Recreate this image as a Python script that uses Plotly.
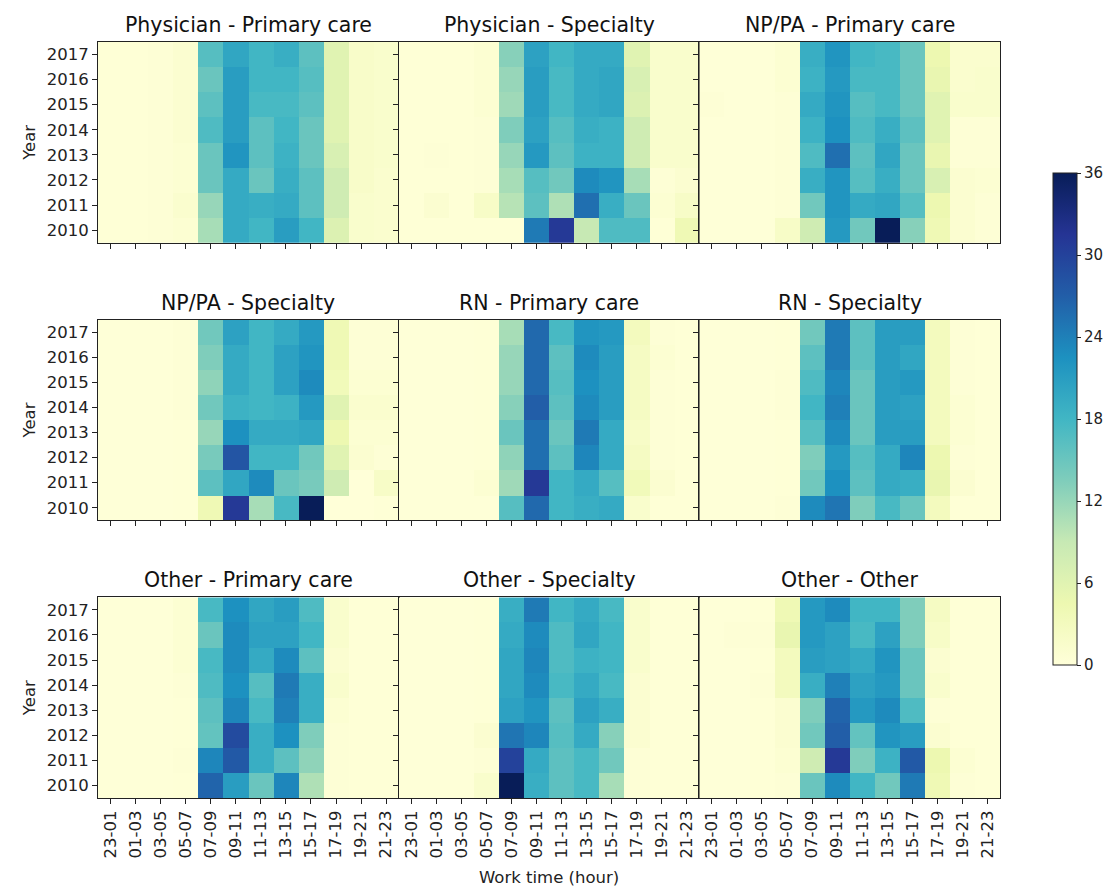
import plotly.graph_objects as go
from plotly.subplots import make_subplots

hours = ["23-01", "01-03", "03-05", "05-07", "07-09", "09-11",
         "11-13", "13-15", "15-17", "17-19", "19-21", "21-23"]
years = ["2010", "2011", "2012", "2013", "2014", "2015", "2016", "2017"]

titles = ["Physician - Primary care", "Physician - Specialty", "NP/PA - Primary care",
          "NP/PA - Specialty", "RN - Primary care", "RN - Specialty",
          "Other - Primary care", "Other - Specialty", "Other - Other"]

# rows: 2010 .. 2017 ; columns: hours
physician_primary = [
    [0.3, 0.3, 0.4, 0.8, 11, 19.5, 18, 21, 18, 6.5, 1.5, 1.2],
    [0.3, 0.3, 0.4, 1.2, 12, 19.5, 19, 19.5, 16, 8, 1.5, 1.2],
    [0.3, 0.3, 0.4, 0.8, 15, 19.5, 15, 19, 16, 8, 1.8, 1.2],
    [0.3, 0.3, 0.4, 0.8, 15, 22, 16, 18.5, 15, 7, 1.8, 1.5],
    [0.3, 0.3, 0.4, 1.0, 17, 21, 16, 18, 15, 6, 1.8, 1.5],
    [0.3, 0.3, 0.4, 1.0, 16, 21, 17.5, 17.5, 16, 6, 1.8, 1.5],
    [0.3, 0.3, 0.4, 1.0, 15, 21, 18, 18, 16.5, 6, 1.8, 1.5],
    [0.3, 0.3, 0.4, 1.0, 16.5, 20, 18, 19, 16, 6, 1.8, 1.5],
]
physician_specialty = [
    [0.3, 0.3, 0.3, 0.3, 0.3, 24.5, 31, 9, 17, 17, 0.3, 4],
    [0.3, 1, 0.3, 2, 10, 16, 10.5, 25.5, 19, 15, 0.8, 2],
    [0.3, 0.3, 0.3, 0.5, 11, 16.5, 14.5, 23, 22, 11, 0.5, 1],
    [0.3, 0.5, 0.3, 0.5, 12, 21.5, 16, 18.5, 18.5, 8, 1.5, 1.5],
    [0.3, 0.3, 0.3, 0.5, 13.5, 20.5, 16.5, 19, 18.5, 8, 1.5, 1.5],
    [0.3, 0.3, 0.3, 0.8, 11.5, 21, 17.5, 19.5, 20, 6.5, 1.5, 1.5],
    [0.3, 0.3, 0.3, 0.8, 12, 21, 17.5, 19.5, 20, 7, 1.5, 1.5],
    [0.3, 0.3, 0.3, 0.8, 13, 20.5, 18, 19.5, 19.5, 6, 1.5, 1.5],
]
nppa_primary = [
    [0.2, 0.2, 0.2, 2, 8, 21.5, 14.5, 36, 13, 4, 1, 0.5],
    [0.2, 0.2, 0.2, 0.5, 14.5, 22, 19.5, 20, 16.5, 4.5, 1, 0.5],
    [0.2, 0.2, 0.2, 0.5, 19, 22, 16.5, 19, 15, 7, 1, 0.8],
    [0.2, 0.2, 0.2, 0.5, 17, 25.5, 16, 20, 15, 5, 0.5, 0.5],
    [0.2, 0.2, 0.2, 0.5, 18.5, 22.5, 17, 19, 16, 6, 0.5, 0.5],
    [0.5, 0.2, 0.2, 0.5, 19.5, 22, 16.5, 17.5, 15, 6, 1.5, 1.5],
    [0.2, 0.2, 0.2, 0.8, 18.5, 21.5, 17.5, 17.5, 15, 5, 1.2, 1.5],
    [0.2, 0.2, 0.2, 0.8, 19, 22, 18, 17.5, 15, 4.5, 1.2, 1.2],
]
nppa_specialty = [
    [0.2, 0.2, 0.2, 0.3, 4, 31, 11, 17.5, 36, 0.1, 0.1, 0.3],
    [0.2, 0.2, 0.2, 0.3, 16, 20, 23, 15, 14, 8, 0.1, 2],
    [0.2, 0.2, 0.2, 0.3, 14, 28, 18, 18, 14.5, 6, 1, 0.5],
    [0.2, 0.2, 0.2, 0.3, 12, 22.5, 19.5, 19.5, 20, 4.5, 0.8, 0.8],
    [0.2, 0.2, 0.2, 0.5, 14.5, 18.5, 18, 18.5, 21.5, 6, 1.2, 1.2],
    [0.2, 0.2, 0.2, 0.5, 12.5, 19.5, 18, 20.5, 23, 3.5, 0.8, 0.8],
    [0.2, 0.2, 0.2, 0.5, 13.5, 19.5, 18, 20.5, 22, 4, 0.5, 0.5],
    [0.2, 0.2, 0.2, 0.5, 14.5, 20.5, 18, 19.5, 21.5, 4, 0.5, 0.5],
]
rn_primary = [
    [0.2, 0.2, 0.2, 0.2, 16.5, 26, 18, 19, 19.5, 1.5, 0.3, 0.3],
    [0.2, 0.2, 0.2, 0.8, 11.5, 31, 18, 19.5, 16.5, 3.5, 1, 0.3],
    [0.2, 0.2, 0.2, 0.3, 12.5, 25.5, 16, 23.5, 19.5, 2.5, 0.5, 0.3],
    [0.2, 0.2, 0.2, 0.3, 15, 25.5, 15, 24.5, 19.5, 2, 0.5, 0.3],
    [0.2, 0.2, 0.2, 0.3, 13, 27, 16, 23, 21, 2.5, 0.5, 0.3],
    [0.2, 0.2, 0.2, 0.3, 12, 26, 16.5, 22.5, 21, 2.5, 0.5, 0.3],
    [0.2, 0.2, 0.2, 0.3, 12, 26, 16, 23, 21, 2.5, 0.8, 0.3],
    [0.2, 0.2, 0.2, 0.3, 11, 26, 17.5, 22, 21.5, 3, 0.5, 0.3],
]
rn_specialty = [
    [0.2, 0.2, 0.2, 0.5, 23, 25, 13.5, 17.5, 15, 3, 0.3, 0.3],
    [0.2, 0.2, 0.2, 0.3, 14.5, 22.5, 16, 19.5, 19, 5, 1, 0.3],
    [0.2, 0.2, 0.2, 0.3, 13.5, 21.5, 16.5, 19.5, 23.5, 4.5, 0.5, 0.3],
    [0.2, 0.2, 0.2, 0.3, 16.5, 23, 15, 21, 21, 3, 0.8, 0.3],
    [0.2, 0.2, 0.2, 0.5, 18, 24, 15, 21, 20.5, 3, 0.8, 0.3],
    [0.2, 0.2, 0.2, 0.5, 17, 23.5, 15, 21, 21.5, 3, 0.5, 0.3],
    [0.2, 0.2, 0.2, 0.3, 16, 24.5, 16, 21, 20, 3, 0.5, 0.3],
    [0.2, 0.2, 0.2, 0.3, 14.5, 24.5, 16, 21, 21, 3, 0.5, 0.3],
]
other_primary = [
    [0.2, 0.2, 0.2, 0.3, 26.5, 21, 15, 23.5, 10.5, 0.5, 0.3, 0.3],
    [0.2, 0.2, 0.2, 0.5, 23.5, 27.5, 19, 16, 12.5, 0.5, 0.3, 0.3],
    [0.2, 0.2, 0.2, 0.3, 15.5, 29, 19, 22.5, 13.5, 0.5, 0.3, 0.3],
    [0.2, 0.2, 0.2, 0.3, 16, 23.5, 17.5, 24, 19, 0.8, 0.3, 0.3],
    [0.2, 0.2, 0.2, 0.5, 17, 22.5, 16.5, 24.5, 19, 1.5, 0.3, 0.3],
    [0.2, 0.2, 0.2, 0.8, 17.5, 23, 19.5, 23, 16, 1, 0.3, 0.3],
    [0.2, 0.2, 0.2, 0.8, 15, 23, 20.5, 20.5, 18, 1.5, 0.3, 0.3],
    [0.2, 0.2, 0.2, 0.8, 17.5, 22.5, 20, 21, 17, 1.5, 0.3, 0.3],
]
other_specialty = [
    [0.2, 0.2, 0.2, 1.5, 36, 19, 16, 17.5, 11, 0.5, 0.3, 0.3],
    [0.2, 0.2, 0.2, 0.5, 30, 19.5, 16, 17.5, 14.5, 0.5, 0.3, 0.3],
    [0.2, 0.2, 0.2, 1, 25, 23.5, 16.5, 19.5, 13, 1, 0.3, 0.3],
    [0.2, 0.2, 0.2, 0.3, 20.5, 22, 16, 20.5, 19, 1, 0.3, 0.3],
    [0.2, 0.2, 0.2, 0.3, 20, 23, 17.5, 19.5, 17.5, 1, 0.3, 0.3],
    [0.2, 0.2, 0.2, 0.3, 20, 23.5, 17, 18.5, 18, 1.5, 0.3, 0.3],
    [0.2, 0.2, 0.2, 0.3, 19.5, 23, 17, 20, 18, 1.5, 0.3, 0.3],
    [0.2, 0.2, 0.2, 0.3, 19, 24.5, 18, 19.5, 17.5, 1.5, 0.3, 0.3],
]
other_other = [
    [0.2, 0.2, 0.3, 0.5, 15, 23, 18, 14.5, 24.5, 4, 0.5, 0.3],
    [0.2, 0.2, 0.3, 0.8, 8, 31, 13.5, 18.5, 27.5, 4.5, 0.8, 0.3],
    [0.2, 0.2, 0.3, 1, 14.5, 27, 15.5, 22, 21, 1, 0.3, 0.3],
    [0.2, 0.2, 0.3, 1, 13.5, 26.5, 21.5, 23, 17, 0.5, 0.3, 0.3],
    [0.2, 0.2, 0.5, 3, 19, 24, 20.5, 21.5, 15, 1.5, 0.3, 0.3],
    [0.2, 0.2, 0.3, 3, 21, 20.5, 19.5, 22, 15, 1, 0.3, 0.3],
    [0.2, 0.5, 0.5, 5, 21.5, 20.5, 17.5, 20.5, 13.5, 2, 0.3, 0.3],
    [0.2, 0.2, 0.3, 4, 21.5, 23, 18, 18, 13.5, 2.5, 0.3, 0.3],
]

panels = [physician_primary, physician_specialty, nppa_primary,
          nppa_specialty, rn_primary, rn_specialty,
          other_primary, other_specialty, other_other]

ylgnbu = [[0.0, "#ffffd9"], [0.125, "#edf8b1"], [0.25, "#c7e9b4"], [0.375, "#7fcdbb"],
          [0.5, "#41b6c4"], [0.625, "#1d91c0"], [0.75, "#225ea8"], [0.875, "#253494"],
          [1.0, "#081d58"]]

OFF = 8  # page body margin
W, H = 1113 - OFF, 887 - OFF
ml, mt = 98 - OFF, 42 - OFF
plot_w, plot_h = 902, 756
mr = W - ml - plot_w
mb = H - mt - plot_h
TICK = 16.5

def px_x(px):
    return (px - OFF - ml) / plot_w

def px_y(py):
    return (mt + plot_h - (py - OFF)) / plot_h

fig = make_subplots(rows=3, cols=3, horizontal_spacing=0.0,
                    vertical_spacing=77 / plot_h, subplot_titles=titles)

for i, z in enumerate(panels):
    r, c = i // 3 + 1, i % 3 + 1
    fig.add_trace(go.Heatmap(z=z, x=hours, y=years, coloraxis="coloraxis"),
                  row=r, col=c)
    fig.update_xaxes(row=r, col=c, type="category", showticklabels=(r == 3),
                     tickangle=-90,
                     ticks="outside", ticklen=5, tickcolor="#222", tickwidth=1,
                     showline=True, linecolor="#222", linewidth=1, mirror=True,
                     showgrid=False, zeroline=False,
                     tickfont=dict(size=TICK, color="#222"))
    fig.update_yaxes(row=r, col=c, type="category", showticklabels=(c == 1),
                     ticks="outside", ticklen=5, tickcolor="#222", tickwidth=1,
                     showline=True, linecolor="#222", linewidth=1, mirror=True,
                     showgrid=False, zeroline=False,
                     tickfont=dict(size=TICK, color="#222"),
                     title=dict(text="Year" if c == 1 else "", standoff=6,
                                font=dict(size=TICK, color="#222")))

for a in fig.layout.annotations:
    a.font = dict(size=20.5, color="#111", family="DejaVu Sans")
    a.yshift = 3

fig.add_annotation(text="Work time (hour)", xref="paper", yref="paper",
                   x=px_x(549), y=px_y(877),
                   xanchor="center", yanchor="middle", showarrow=False,
                   font=dict(size=TICK, color="#222"))

fig.update_layout(
    width=W, height=H,
    margin=dict(l=ml, r=mr, t=mt, b=mb, autoexpand=False),
    paper_bgcolor="white", plot_bgcolor="white",
    font=dict(family="DejaVu Sans", color="#222"),
    coloraxis=dict(
        colorscale=ylgnbu, cmin=0, cmax=36,
        colorbar=dict(
            x=px_x(1053 - 10), xanchor="left", xpad=10,
            y=px_y(419), yanchor="middle",
            len=492 / plot_h, lenmode="fraction", ypad=0,
            thickness=24, outlinewidth=1, outlinecolor="#222",
            tickvals=[0, 6, 12, 18, 24, 30, 36], ticks="outside",
            ticklen=4, tickcolor="#222",
            tickfont=dict(size=15, color="#222"),
        ),
    ),
)

fig.write_html("out.html")
